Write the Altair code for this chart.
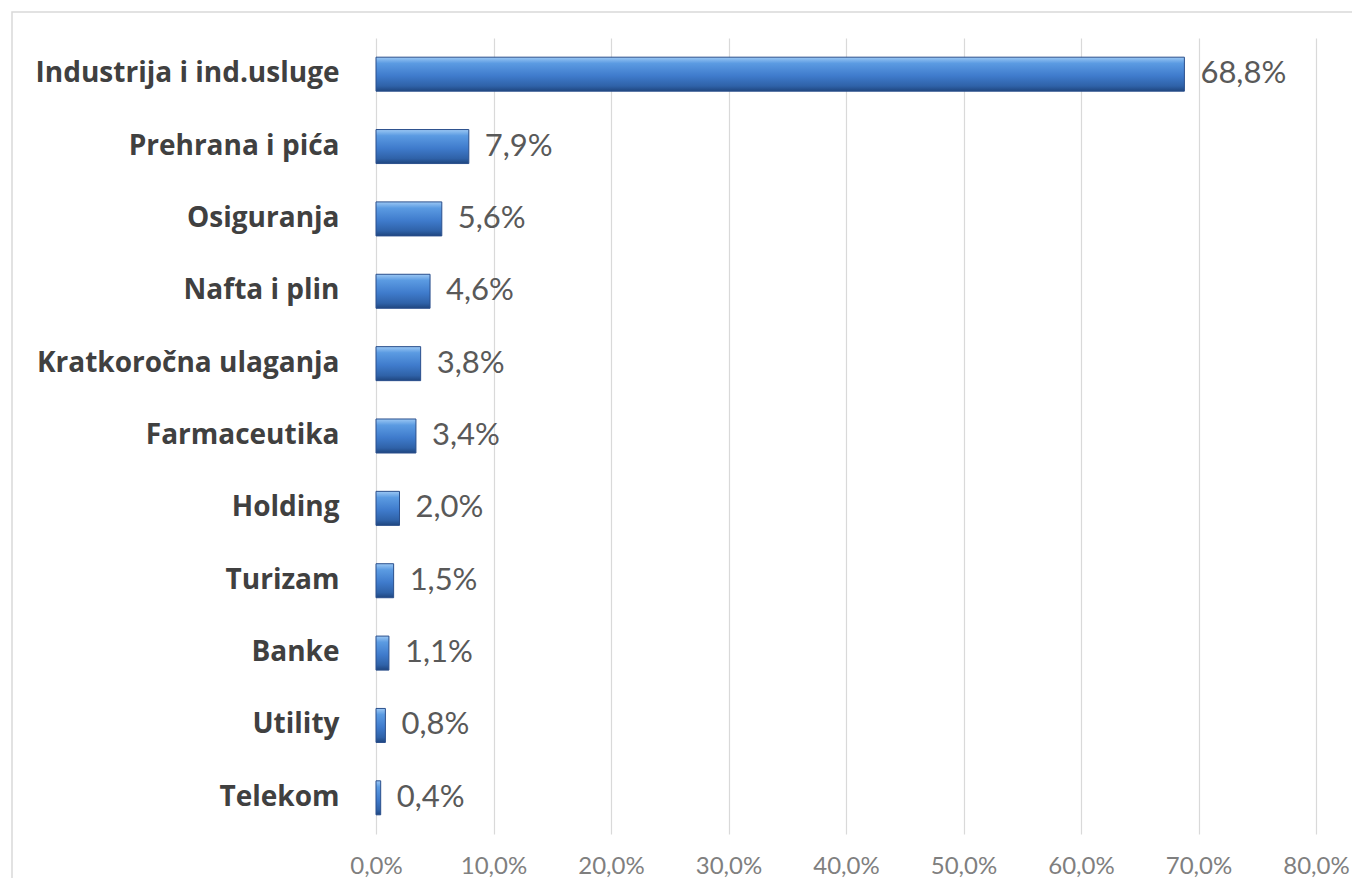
import altair as alt
import pandas as pd

categories = [
    "Industrija i ind.usluge", "Prehrana i pića", "Osiguranja", "Nafta i plin",
    "Kratkoročna ulaganja", "Farmaceutika", "Holding", "Turizam", "Banke",
    "Utility", "Telekom",
]
values = [68.8, 7.9, 5.6, 4.6, 3.8, 3.4, 2.0, 1.5, 1.1, 0.8, 0.4]
x_ticks = [0, 10, 20, 30, 40, 50, 60, 70, 80]

df = pd.DataFrame({"cat": categories, "val": values})

FONT = "Lato"

y_enc = alt.Y(
    "cat:N", sort=categories, title=None,
    scale=alt.Scale(paddingInner=0.53, paddingOuter=0.265),
    axis=alt.Axis(
        labelFont="Open Sans", labelFontSize=28, labelFontWeight="bold",
        labelColor="#404040", labelPadding=37, ticks=False, domain=False,
        grid=False, labelLimit=400,
    ),
)
x_enc = alt.X(
    "val:Q", title=None,
    scale=alt.Scale(domain=[0, 80], nice=False),
    axis=alt.Axis(
        values=x_ticks, labelExpr="replace(format(datum.value, '.1f'), '.', ',') + '%'",
        labelFont=FONT, labelFontSize=24, labelColor="#7f7f7f", labelPadding=20,
        labelFlush=False,
        ticks=False, domain=False, grid=True, gridColor="#d9d9d9", gridWidth=1.2,
    ),
)

grad = alt.Gradient(
    gradient="linear",
    stops=[
        alt.GradientStop(offset=0, color="#9cc8f4"),
        alt.GradientStop(offset=0.18, color="#5b9be2"),
        alt.GradientStop(offset=0.55, color="#3f7bcc"),
        alt.GradientStop(offset=0.85, color="#2f62a8"),
        alt.GradientStop(offset=1, color="#1f467f"),
    ],
    x1=0, x2=0, y1=0, y2=1,
)

base = alt.Chart(df)

bars = base.mark_bar(color=grad, stroke="#2a4f8c", strokeWidth=1).encode(y=y_enc, x=x_enc)

labels = base.transform_calculate(
    lbl="replace(format(datum.val, '.1f'), '.', ',') + '%'"
).mark_text(
    align="left", baseline="middle", dx=16, font=FONT, fontSize=31, color="#595959"
).encode(y=alt.Y("cat:N", sort=categories), x=alt.X("val:Q"), text="lbl:N")

frame = alt.Chart(pd.DataFrame({"a": [0]})).mark_rect(
    filled=False, stroke="#d9d9d9", strokeWidth=1.5
).encode(x=alt.value(-364), x2=alt.value(1000), y=alt.value(-26), y2=alt.value(870))

chart = alt.layer(frame, bars, labels).properties(
    width=940, height=796,
    padding={"left": 368, "top": 30, "right": 36, "bottom": 44},
    autosize=alt.AutoSizeParams(type="none"),
).configure_view(stroke=None)

chart.save("out.html", embed_options={"renderer": "svg", "actions": False})
